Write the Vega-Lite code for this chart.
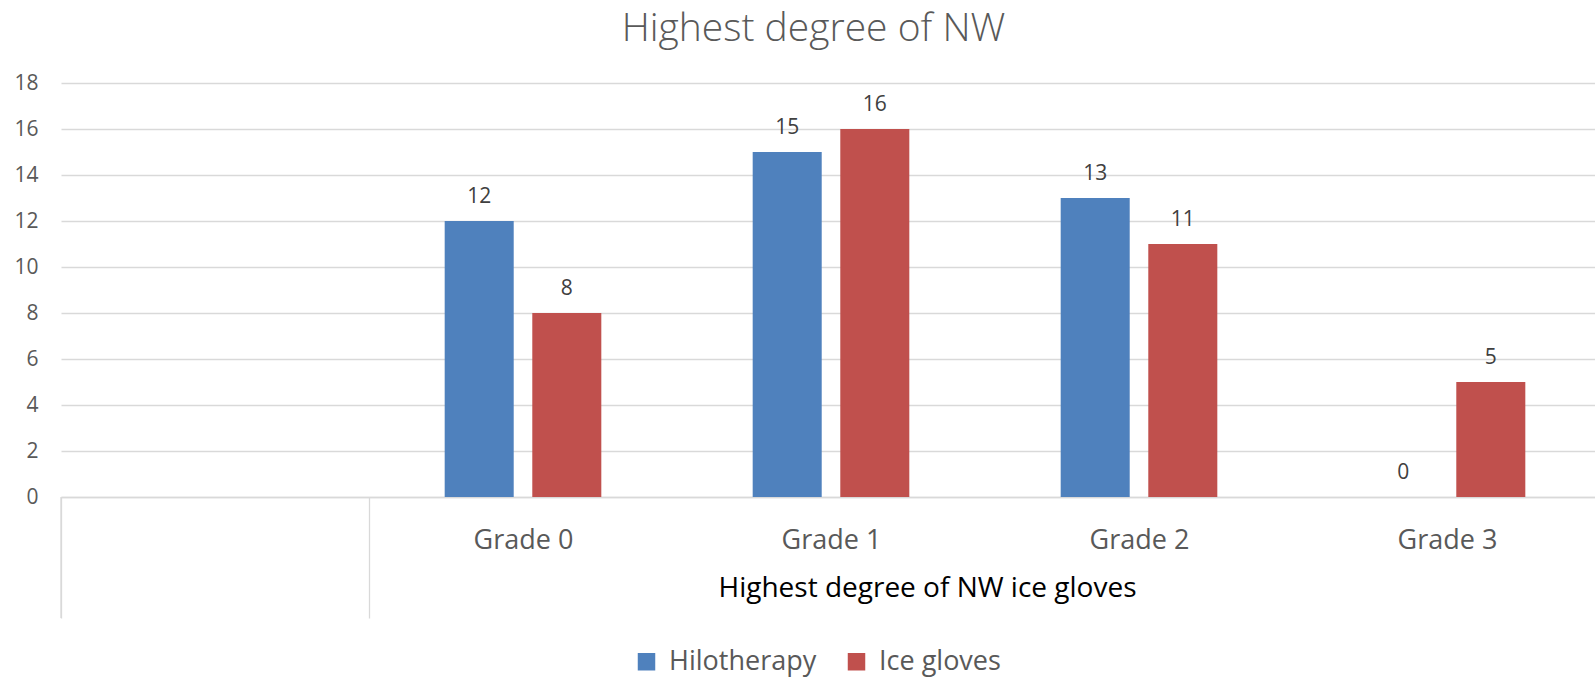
{
  "$schema": "https://vega.github.io/schema/vega-lite/v6.json",
  "autosize": {"type": "none"},
  "width": 1535,
  "height": 414,
  "padding": {"left": 60, "top": 83, "right": 0, "bottom": 180},
  "background": "white",
  "config": {"view": {"stroke": null}, "font": "Open Sans"},
  "title": {
    "text": "Highest degree of NW",
    "fontSize": 39,
    "font": "Open Sans",
    "fontWeight": 300,
    "color": "#595959",
    "anchor": "middle",
    "frame": "group",
    "dx": -14,
    "dy": 8,
    "baseline": "alphabetic",
    "offset": 0
  },
  "data": {
    "values": [
      {"grade": "Grade 0", "group": "Hilotherapy", "count": 12},
      {"grade": "Grade 0", "group": "Ice gloves", "count": 8},
      {"grade": "Grade 1", "group": "Hilotherapy", "count": 15},
      {"grade": "Grade 1", "group": "Ice gloves", "count": 16},
      {"grade": "Grade 2", "group": "Hilotherapy", "count": 13},
      {"grade": "Grade 2", "group": "Ice gloves", "count": 11},
      {"grade": "Grade 3", "group": "Hilotherapy", "count": 0},
      {"grade": "Grade 3", "group": "Ice gloves", "count": 5}
    ]
  },
  "encoding": {
    "x": {
      "field": "grade",
      "type": "nominal",
      "title": "Highest degree of NW ice gloves",
      "scale": {
        "domain": [" ", "Grade 0", "Grade 1", "Grade 2", "Grade 3"],
        "range": [1, 1541],
        "paddingInner": 0,
        "paddingOuter": 0
      },
      "axis": {
        "grid": false,
        "domainColor": "#d9d9d9",
        "domainWidth": 1.3,
        "tickBand": "extent",
        "tickSize": 121,
        "tickWidth": 1.3,
        "tickColor": {
          "condition": {"test": "datum.value === ' ' || datum.extra", "value": "#d9d9d9"},
          "value": "transparent"
        },
        "labelAngle": 0,
        "labelFont": "Open Sans",
        "labelFontSize": 27,
        "labelColor": "#595959",
        "labelBaseline": "alphabetic",
        "labelPadding": -70,
        "titleFont": "Open Sans",
        "titleFontSize": 28,
        "titleFontWeight": "normal",
        "titleColor": "#000000",
        "titleBaseline": "alphabetic",
        "titleAlign": "center",
        "titleX": 867,
        "titleY": 99
      }
    },
    "y": {
      "field": "count",
      "type": "quantitative",
      "title": null,
      "scale": {"domain": [0, 18], "nice": false},
      "axis": {
        "values": [0, 2, 4, 6, 8, 10, 12, 14, 16, 18],
        "domain": false,
        "ticks": false,
        "grid": true,
        "gridColor": "#d9d9d9",
        "gridWidth": 1.3,
        "labelFont": "Open Sans",
        "labelFontSize": 21,
        "labelColor": "#595959",
        "labelPadding": 22
      }
    }
  },
  "layer": [
    {
      "mark": {"type": "bar"},
      "encoding": {
        "xOffset": {
          "field": "group",
          "type": "nominal",
          "scale": {"domain": ["Hilotherapy", "Ice gloves"], "paddingInner": 0.212, "paddingOuter": 0.864}
        },
        "color": {
          "field": "group",
          "type": "nominal",
          "scale": {"domain": ["Hilotherapy", "Ice gloves"], "range": ["#4f81bd", "#c0504d"]},
          "legend": {
            "orient": "none",
            "legendX": 573,
            "legendY": 565,
            "direction": "horizontal",
            "title": null,
            "symbolType": "square",
            "symbolSize": 306,
            "symbolStrokeWidth": 0,
            "symbolOpacity": 1,
            "labelFont": "Open Sans",
            "labelFontSize": 27,
            "labelColor": "#595959",
            "labelOffset": 9,
            "labelLimit": 400,
            "columnPadding": 26,
            "padding": 0
          }
        }
      }
    },
    {
      "mark": {"type": "text", "baseline": "alphabetic", "dy": -18, "fontSize": 21, "color": "#404040", "font": "Open Sans"},
      "encoding": {
        "xOffset": {"field": "group", "type": "nominal"},
        "text": {"field": "count", "type": "quantitative"}
      }
    },
    {
      "data": {"values": [{"edge": " ", "top": 0, "bottom": -5.26}]},
      "mark": {"type": "rule", "color": "#d9d9d9", "strokeWidth": 1.3},
      "encoding": {
        "x": {"field": "edge", "type": "nominal", "bandPosition": 0},
        "y": {"field": "top", "type": "quantitative"},
        "y2": {"field": "bottom"}
      }
    }
  ]
}
